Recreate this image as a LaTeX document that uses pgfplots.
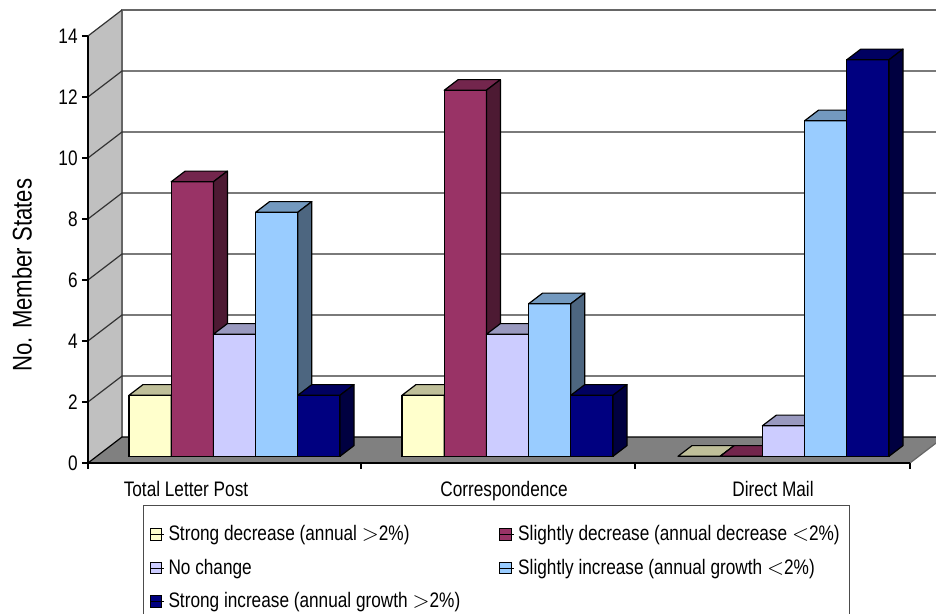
\documentclass[border=0pt]{standalone}
\usepackage{fontspec}
\setmainfont{Liberation Sans}[FakeStretch=0.82]
\usepackage{pgfplots}
\usepackage{pgfplotstable}
\pgfplotsset{compat=1.18}

% front / top / side shades of the five series
\definecolor{c1}{HTML}{FFFFCC}\definecolor{t1}{HTML}{BFBF99}\definecolor{d1}{HTML}{80806A}
\definecolor{c2}{HTML}{993366}\definecolor{t2}{HTML}{73264D}\definecolor{d2}{HTML}{4D1A33}
\definecolor{c3}{HTML}{CCCCFF}\definecolor{t3}{HTML}{9999BF}\definecolor{d3}{HTML}{666680}
\definecolor{c4}{HTML}{99CCFF}\definecolor{t4}{HTML}{7399BF}\definecolor{d4}{HTML}{4D6680}
\definecolor{c5}{HTML}{000080}\definecolor{t5}{HTML}{000060}\definecolor{d5}{HTML}{000040}
\definecolor{wallgray}{HTML}{C0C0C0}
\definecolor{floorgray}{HTML}{808080}

% left edge of the first bar of each group, then one column per series
\pgfplotstableread{
x0  s1 s2 s3 s4 s5
129 2  9  4  8  2
402 2  12 4  5  2
678 0  0  1  11 13
}\bardata

% x is measured in px of the chart, y in member states
\def\bw{42.2}   % bar width
\def\bb{0.22}   % bar base above the front plane
\def\ddx{14}    % bar depth, horizontal
\def\ddy{0.35}  % bar depth, vertical
\newcommand\drawbox[3]{%
  \filldraw[fill=c#3,draw=black,line width=0.6pt]
    (axis cs:#1,\bb) rectangle (axis cs:{#1+\bw},{\bb+#2});
  \filldraw[fill=t#3,draw=black,line width=0.6pt,line join=round]
    (axis cs:#1,{\bb+#2}) -- (axis cs:{#1+\bw},{\bb+#2})
    -- (axis cs:{#1+\bw+\ddx},{\bb+\ddy+#2}) -- (axis cs:{#1+\ddx},{\bb+\ddy+#2}) -- cycle;
  \filldraw[fill=d#3,draw=black,line width=0.6pt,line join=round]
    (axis cs:{#1+\bw},\bb) -- (axis cs:{#1+\bw+\ddx},{\bb+\ddy})
    -- (axis cs:{#1+\bw+\ddx},{\bb+\ddy+#2}) -- (axis cs:{#1+\bw},{\bb+#2}) -- cycle;
}

\pgfplotsset{sqlegend/.style={legend image code/.code={%
  \draw[##1,draw=black,line width=0.5pt] (0pt,-2.9pt) rectangle (5.8pt,2.9pt);
  \path (0pt,0pt) -- (7pt,0pt);}}}

\begin{document}
\begin{tikzpicture}
\begin{axis}[
  x=0.5pt, y=15.25pt,
  xmin=88, xmax=910, ymin=0, ymax=14,
  clip=false, axis on top,
  axis x line*=bottom, axis y line*=left,
  axis line style={-,black,line width=0.6pt},
  xtick={88,361,635,910}, xticklabels={},
  ytick={0,2,...,14},
  tick align=outside, major tick length=3pt,
  tick style={black,line width=0.6pt},
  /pgf/number format/assume math mode=true,
  yticklabel style={font=\fontsize{10.5}{12}\selectfont, inner sep=2pt},
  legend columns=2,
  legend cell align=left,
  legend style={at={(axis cs:143,-1.377)}, anchor=north west,
    draw=black!70, line width=0.5pt,
    font=\fontsize{10.5}{12}\selectfont,
    inner xsep=3pt, inner ysep=8pt, row sep=3.6pt,
    /tikz/column 2/.style={column sep=17.5pt}},
]
% side wall and floor
\fill[wallgray] (axis cs:88,0) -- (axis cs:122,0.852) -- (axis cs:122,14.852) -- (axis cs:88,14) -- cycle;
\fill[floorgray] (axis cs:88,0) -- (axis cs:910,0) -- (axis cs:944,0.852) -- (axis cs:122,0.852) -- cycle;
\draw[black!60,line width=0.6pt] (axis cs:122,0.852) -- (axis cs:122,14.852) -- (axis cs:944,14.852);
\draw[black!60,line width=0.6pt] (axis cs:910,0) -- (axis cs:944,0.852);
\draw[black,line width=0.6pt] (axis cs:88,0) -- (axis cs:122,0.852) -- (axis cs:944,0.852);
% gridlines on side and back wall
\pgfplotsinvokeforeach{2,4,...,12}{
  \draw[black!80,line width=0.6pt] (axis cs:88,#1) -- (axis cs:122,{#1+0.852}) -- (axis cs:944,{#1+0.852});
}
\draw[black!80,line width=0.6pt] (axis cs:88,14) -- (axis cs:122,14.852);

% bars
\pgfplotsforeachungrouped \r in {0,1,2}{%
  \pgfplotstablegetelem{\r}{x0}\of\bardata \let\xa\pgfplotsretval
  \pgfplotsforeachungrouped \k in {1,2,3,4,5}{%
    \pgfplotstablegetelem{\r}{s\k}\of\bardata \let\vv\pgfplotsretval
    \pgfmathsetmacro\xl{\xa+\bw*(\k-1)}%
    \edef\next{\noexpand\drawbox{\xl}{\vv}{\k}}\next
  }%
}

% category names
\node[anchor=base,font=\fontsize{10.5}{12}\selectfont] at (axis cs:186,-1.115) {Total Letter Post};
\node[anchor=base,font=\fontsize{10.5}{12}\selectfont] at (axis cs:504,-1.115) {Correspondence};
\node[anchor=base,font=\fontsize{10.5}{12}\selectfont] at (axis cs:773,-1.115) {Direct Mail};
\node[rotate=90,font=\fontsize{13.5}{15}\selectfont] at (axis cs:22,6.16) {No. Member States};

\addlegendimage{sqlegend,fill=c1}\addlegendentry{Strong decrease (annual $>$2\%)}
\addlegendimage{sqlegend,fill=c2}\addlegendentry{Slightly decrease (annual decrease $<$2\%)}
\addlegendimage{sqlegend,fill=c3}\addlegendentry{No change}
\addlegendimage{sqlegend,fill=c4}\addlegendentry{Slightly increase (annual growth $<$2\%)}
\addlegendimage{sqlegend,fill=c5}\addlegendentry{Strong increase (annual growth $>$2\%)}

\coordinate (bbsw) at (axis cs:0,-4.951);
\coordinate (bbne) at (axis cs:936,15.18);
\end{axis}
\pgfresetboundingbox
\useasboundingbox (bbsw) rectangle (bbne);
\end{tikzpicture}
\end{document}
